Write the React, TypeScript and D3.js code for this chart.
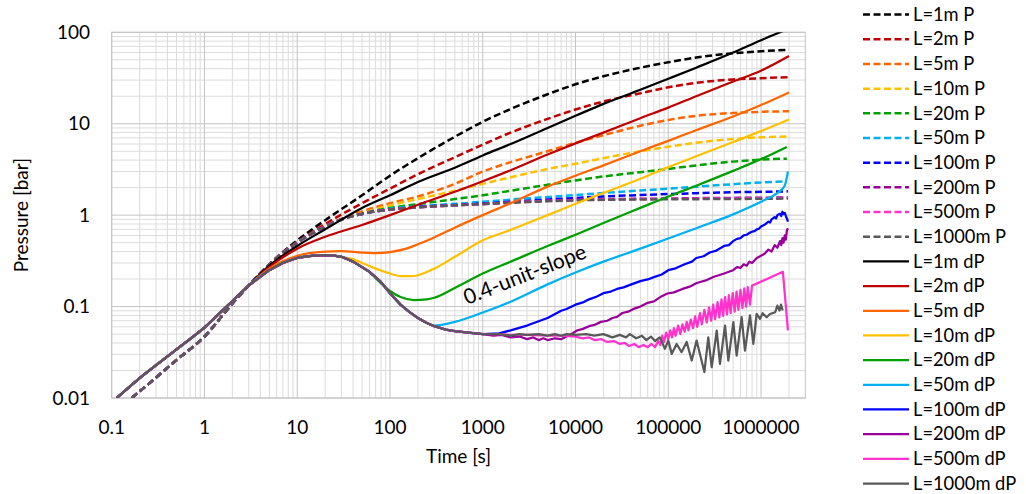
import React from "react";
import * as d3 from "d3";

type Pt = [number, number];

// ---- axes -----------------------------------------------------------------
const xTicks = [0.1, 1, 10, 100, 1000, 10000, 100000, 1000000];
const xTickLabels = ["0.1", "1", "10", "100", "1000", "10000", "100000", "1000000"];
const yTicks = [0.01, 0.1, 1, 10, 100];
const yTickLabels = ["0.01", "0.1", "1", "10", "100"];

// ---- shared early-time segments ---------------------------------------------
const pEarly: Pt[] = [[0.164, 0.01], [0.2, 0.0118], [0.5, 0.026], [1, 0.047], [2, 0.108], [3, 0.17], [5, 0.29]];
const dpEarly: Pt[] = [[0.113, 0.01], [0.2, 0.0165], [0.5, 0.034], [1, 0.059], [2, 0.115], [3, 0.17]];
const pLongBundle: Pt[] = [[10, 0.5], [20, 0.75], [30, 0.9], [50, 1.03], [70, 1.1], [100, 1.15], [200, 1.22], [500, 1.28]];
const dpHump: Pt[] = [[5, 0.25], [7, 0.3], [10, 0.34], [15, 0.36], [20, 0.365], [25, 0.36], [30, 0.35]];
const dpFall: Pt[] = [[40, 0.31], [50, 0.27], [60, 0.24], [70, 0.21], [80, 0.185], [100, 0.14], [130, 0.105], [160, 0.088], [200, 0.075], [250, 0.066]];
const dpFloor: Pt[] = [[300, 0.061], [400, 0.056], [500, 0.054], [700, 0.052], [1000, 0.05]];

// ---- pressure (P) -------------------------------------------------------------
const p1m: Pt[] = [...pEarly, [10, 0.53], [20, 0.88], [50, 1.65], [100, 2.7], [200, 4.2], [500, 7.2], [1000, 10.5], [2000, 14.5], [5000, 21], [1e4, 27], [2e4, 33], [5e4, 41], [1e5, 47], [2e5, 53], [5e5, 59], [1e6, 62], [2e6, 64.5]];
const p2m: Pt[] = [...pEarly, [10, 0.51], [20, 0.8], [50, 1.35], [100, 1.95], [200, 2.8], [500, 4.3], [1000, 5.9], [2000, 8], [5000, 11.3], [1e4, 14.3], [2e4, 17.5], [5e4, 21.5], [1e5, 25], [2e5, 28], [5e5, 30.5], [1e6, 31.5], [2e6, 32.3]];
const p5m: Pt[] = [...pEarly, [10, 0.5], [20, 0.76], [50, 1.1], [100, 1.35], [200, 1.6], [500, 2.2], [1000, 3.0], [2000, 3.8], [5000, 5.0], [1e4, 6.2], [2e4, 7.5], [5e4, 9.5], [1e5, 11], [2e5, 12.2], [5e5, 13.1], [1e6, 13.5], [2e6, 13.7]];
const p10m: Pt[] = [...pEarly, [10, 0.5], [20, 0.75], [50, 1.05], [100, 1.28], [200, 1.5], [500, 1.85], [1000, 2.2], [2000, 2.6], [5000, 3.2], [1e4, 3.65], [2e4, 4.2], [5e4, 5.0], [1e5, 5.6], [2e5, 6.2], [5e5, 6.8], [1e6, 7.1], [2e6, 7.25]];
const p20m: Pt[] = [...pEarly, [10, 0.5], [20, 0.75], [50, 1.04], [100, 1.2], [200, 1.32], [500, 1.5], [1000, 1.65], [2000, 1.85], [5000, 2.15], [1e4, 2.4], [2e4, 2.65], [5e4, 2.95], [1e5, 3.2], [2e5, 3.5], [5e5, 3.85], [1e6, 4.05], [1.9e6, 4.15]];
const p50m: Pt[] = [...pEarly, ...pLongBundle.slice(0, 5), [100, 1.17], [200, 1.25], [500, 1.33], [1000, 1.4], [2000, 1.48], [5000, 1.58], [1e4, 1.66], [2e4, 1.75], [5e4, 1.86], [1e5, 1.95], [2e5, 2.05], [5e5, 2.18], [1e6, 2.28], [1.9e6, 2.35]];
const p100m: Pt[] = [...pEarly, ...pLongBundle.slice(0, 6), [200, 1.23], [500, 1.29], [1000, 1.34], [2000, 1.4], [5000, 1.48], [1e4, 1.54], [2e4, 1.6], [5e4, 1.66], [1e5, 1.7], [2e5, 1.74], [5e5, 1.78], [1e6, 1.8], [1.95e6, 1.82]];
const p200m: Pt[] = [...pEarly, ...pLongBundle, [1000, 1.33], [3000, 1.41], [1e4, 1.47], [3e4, 1.5], [1e5, 1.52], [3e5, 1.54], [1e6, 1.55], [1.95e6, 1.56]];
const p500m: Pt[] = [...pEarly, ...pLongBundle, [1000, 1.32], [3000, 1.4], [1e4, 1.46], [3e4, 1.49], [1e5, 1.51], [3e5, 1.52], [1e6, 1.53], [1.95e6, 1.54]];
const p1000m: Pt[] = [...pEarly, ...pLongBundle, [1000, 1.32], [3000, 1.39], [1e4, 1.45], [3e4, 1.48], [1e5, 1.49], [3e5, 1.5], [1e6, 1.51], [1.95e6, 1.52]];

// ---- pressure derivative (dP) -------------------------------------------------
const dp1m: Pt[] = [...dpEarly, [5, 0.28], [10, 0.46], [20, 0.7], [50, 1.2], [100, 1.65], [200, 2.3], [500, 3.3], [1000, 4.5], [2000, 6.0], [5000, 9.0], [1e4, 12.2], [2e4, 16.5], [5e4, 23.5], [1e5, 31], [2e5, 41], [5e5, 60], [1e6, 82], [2e6, 110]];
const dp2m: Pt[] = [...dpEarly, [5, 0.27], [10, 0.43], [20, 0.58], [50, 0.78], [100, 1.0], [200, 1.3], [500, 1.8], [1000, 2.35], [2000, 3.1], [5000, 4.6], [1e4, 6.1], [2e4, 8.0], [5e4, 11.5], [1e5, 15], [2e5, 20], [5e5, 29], [1e6, 38], [2e6, 55]];
const dp5m: Pt[] = [...dpEarly, [5, 0.26], [10, 0.36], [20, 0.4], [30, 0.405], [50, 0.39], [70, 0.385], [100, 0.395], [150, 0.43], [200, 0.48], [300, 0.57], [500, 0.73], [1000, 1.0], [2000, 1.35], [5000, 2.05], [1e4, 2.7], [2e4, 3.5], [5e4, 5.0], [1e5, 6.5], [2e5, 8.5], [5e5, 12], [1e6, 16], [2e6, 22]];
const dp10m: Pt[] = [...dpEarly, ...dpHump, [40, 0.33], [50, 0.3], [70, 0.26], [100, 0.23], [130, 0.215], [170, 0.215], [200, 0.22], [300, 0.26], [500, 0.35], [1000, 0.53], [2000, 0.69], [5000, 1.0], [1e4, 1.33], [2e4, 1.75], [5e4, 2.5], [1e5, 3.35], [2e5, 4.4], [5e5, 6.3], [1e6, 8.3], [2e6, 11.1]];
const dp20m: Pt[] = [...dpEarly, ...dpHump, [40, 0.31], [50, 0.27], [60, 0.24], [70, 0.205], [100, 0.148], [130, 0.127], [180, 0.118], [250, 0.12], [300, 0.125], [500, 0.16], [1000, 0.23], [2000, 0.31], [5000, 0.46], [1e4, 0.61], [2e4, 0.82], [5e4, 1.2], [1e5, 1.6], [2e5, 2.1], [5e5, 3.05], [1e6, 4.1], [1.9e6, 5.58]];
const dp50m: Pt[] = [...dpEarly, ...dpHump, ...dpFall, [300, 0.062], [500, 0.068], [1000, 0.086], [2000, 0.113], [5000, 0.175], [1e4, 0.236], [2e4, 0.31], [5e4, 0.43], [1e5, 0.555], [2e5, 0.72], [5e5, 1.02], [1e6, 1.4], [1.5e6, 1.75], [1.8e6, 2.1], [1.95e6, 3.0]];
const dp100m: Pt[] = [...dpEarly, ...dpHump, ...dpFall, ...dpFloor, [1500, 0.051], [2000, 0.055], [3000, 0.062], [5000, 0.075], [7000, 0.09], [8000, 0.094], [1e4, 0.105], [1.2e4, 0.111], [1.4e4, 0.12], [1.7e4, 0.129], [2e4, 0.14], [2.4e4, 0.146], [2.8e4, 0.156], [3.3e4, 0.162], [4e4, 0.175], [5e4, 0.19], [6e4, 0.198], [7e4, 0.21], [8.5e4, 0.224], [1e5, 0.25], [1.2e5, 0.262], [1.5e5, 0.29], [1.8e5, 0.31], [2e5, 0.34], [2.4e5, 0.355], [2.8e5, 0.39], [3.3e5, 0.41], [4e5, 0.46], [4.5e5, 0.47], [5e5, 0.52], [5.5e5, 0.55], [6e5, 0.56], [6.5e5, 0.6], [7e5, 0.61], [7.5e5, 0.64], [8e5, 0.66], [8.5e5, 0.67], [9e5, 0.7], [9.5e5, 0.71], [1e6, 0.75], [1.1e6, 0.79], [1.2e6, 0.85], [1.25e6, 0.83], [1.3e6, 0.9], [1.4e6, 0.95], [1.45e6, 0.92], [1.5e6, 1.0], [1.6e6, 1.04], [1.65e6, 0.98], [1.7e6, 1.09], [1.75e6, 1.03], [1.8e6, 1.06], [1.85e6, 0.98], [1.9e6, 0.92], [1.95e6, 0.85]];
const dp200m: Pt[] = [...dpEarly, ...dpHump, ...dpFall, ...dpFloor, [1300, 0.048], [1600, 0.049], [2000, 0.046], [2500, 0.047], [3000, 0.044], [3500, 0.046], [4000, 0.043], [4500, 0.045], [5000, 0.043], [6000, 0.045], [7000, 0.044], [8000, 0.047], [9000, 0.05], [1.05e4, 0.055], [1.2e4, 0.057], [1.4e4, 0.061], [1.6e4, 0.063], [1.87e4, 0.068], [2.2e4, 0.07], [2.5e4, 0.075], [2.8e4, 0.077], [3.2e4, 0.085], [3.7e4, 0.088], [4.3e4, 0.095], [5e4, 0.1], [6e4, 0.11], [7e4, 0.114], [8.5e4, 0.13], [9.8e4, 0.139], [1.15e5, 0.143], [1.4e5, 0.155], [1.7e5, 0.165], [2e5, 0.18], [2.25e5, 0.187], [2.6e5, 0.195], [3.1e5, 0.212], [3.5e5, 0.22], [4e5, 0.23], [4.5e5, 0.24], [5e5, 0.25], [5.5e5, 0.27], [6e5, 0.265], [6.5e5, 0.29], [7e5, 0.28], [7.5e5, 0.31], [8e5, 0.3], [9e5, 0.34], [1e6, 0.36], [1.1e6, 0.38], [1.2e6, 0.42], [1.3e6, 0.4], [1.4e6, 0.47], [1.5e6, 0.44], [1.6e6, 0.52], [1.65e6, 0.47], [1.7e6, 0.56], [1.75e6, 0.5], [1.8e6, 0.6], [1.85e6, 0.54], [1.9e6, 0.68], [1.95e6, 0.72]];
const dp500m: Pt[] = [...dpEarly, ...dpHump, ...dpFall, ...dpFloor, [1500, 0.05], [2000, 0.049], [3000, 0.049], [5000, 0.048], [7000, 0.048], [1e4, 0.047], [1.2e4, 0.045], [1.4e4, 0.046], [1.6e4, 0.043], [1.9e4, 0.044], [2.2e4, 0.041], [2.6e4, 0.042], [3e4, 0.039], [3.4e4, 0.04], [3.8e4, 0.037], [4.3e4, 0.039], [4.8e4, 0.036], [5.4e4, 0.038], [6e4, 0.036], [6.6e4, 0.039], [7.2e4, 0.036], [7.8e4, 0.042], [8.2e4, 0.038], [8.6e4, 0.048], [9e4, 0.041], [9.5e4, 0.052], [1.0e5, 0.044], [1.05e5, 0.055], [1.1e5, 0.046], [1.15e5, 0.058], [1.2e5, 0.048], [1.28e5, 0.062], [1.35e5, 0.05], [1.42e5, 0.064], [1.5e5, 0.053], [1.58e5, 0.068], [1.65e5, 0.055], [1.75e5, 0.072], [1.85e5, 0.058], [1.95e5, 0.078], [2.05e5, 0.06], [2.2e5, 0.085], [2.3e5, 0.064], [2.45e5, 0.092], [2.6e5, 0.067], [2.75e5, 0.098], [2.9e5, 0.07], [3.05e5, 0.105], [3.2e5, 0.073], [3.4e5, 0.112], [3.55e5, 0.076], [3.75e5, 0.12], [3.9e5, 0.079], [4.1e5, 0.127], [4.3e5, 0.082], [4.5e5, 0.133], [4.7e5, 0.085], [4.95e5, 0.14], [5.2e5, 0.088], [5.45e5, 0.146], [5.7e5, 0.092], [6e5, 0.152], [6.3e5, 0.096], [6.6e5, 0.158], [6.9e5, 0.1], [7.2e5, 0.163], [7.6e5, 0.105], [8e5, 0.17], [8.6e5, 0.175], [1.72e6, 0.24], [1.95e6, 0.055]];
const dp1000m: Pt[] = [...dpEarly, ...dpHump, ...dpFall, ...dpFloor, [1500, 0.05], [2000, 0.048], [2500, 0.05], [3000, 0.049], [4000, 0.05], [5000, 0.048], [6000, 0.05], [7000, 0.048], [8000, 0.05], [1e4, 0.049], [1.3e4, 0.05], [1.6e4, 0.048], [2e4, 0.05], [2.5e4, 0.046], [3e4, 0.049], [3.5e4, 0.046], [3.85e4, 0.05], [4.5e4, 0.045], [5.2e4, 0.048], [5.8e4, 0.043], [6.5e4, 0.047], [7.2e4, 0.042], [8.1e4, 0.046], [9.2e4, 0.0345], [1e5, 0.0425], [1.09e5, 0.0304], [1.23e5, 0.039], [1.39e5, 0.0317], [1.58e5, 0.041], [1.79e5, 0.0257], [2.02e5, 0.0425], [2.45e5, 0.0192], [2.7e5, 0.046], [2.94e5, 0.0218], [3.33e5, 0.0546], [3.61e5, 0.0236], [4.09e5, 0.062], [4.44e5, 0.0257], [5.03e5, 0.0674], [5.46e5, 0.029], [6.18e5, 0.0765], [6.71e5, 0.033], [7.6e5, 0.08], [8.26e5, 0.039], [8.97e5, 0.083], [9.75e5, 0.0734], [1.04e6, 0.0846], [1.15e6, 0.0765], [1.25e6, 0.083], [1.42e6, 0.0867], [1.5e6, 0.1025], [1.58e6, 0.0905], [1.64e6, 0.105], [1.71e6, 0.0905]];

const lengths = ["1m", "2m", "5m", "10m", "20m", "50m", "100m", "200m", "500m", "1000m"];
const colors = ["#000000", "#C00000", "#FF6600", "#FFC000", "#00A000", "#00B0F0", "#0000FF", "#990099", "#FF33CC", "#595959"];
const pSeries = [p1m, p2m, p5m, p10m, p20m, p50m, p100m, p200m, p500m, p1000m];
const dpSeries = [dp1m, dp2m, dp5m, dp10m, dp20m, dp50m, dp100m, dp200m, dp500m, dp1000m];
const noisy = [false, false, false, false, false, false, true, true, true, true];

const FONT = "Lato, 'Open Sans', sans-serif";

export default function App() {
  const left = 111.7, right = 805.3, top = 32.3, bottom = 398;
  const x = d3.scaleLog().domain([0.1, 3e6]).range([left, right]);
  const y = d3.scaleLog().domain([0.01, 100]).range([bottom, top]);

  const minorX: number[] = [];
  for (let d = -1; d <= 6; d++) for (let k = 2; k <= 9; k++) { const v = k * Math.pow(10, d); if (v < 3e6) minorX.push(v); }
  const minorY: number[] = [];
  for (let d = -2; d <= 1; d++) for (let k = 2; k <= 9; k++) minorY.push(k * Math.pow(10, d));

  const smooth = d3.line<Pt>().x(d => x(d[0])).y(d => y(d[1])).curve(d3.curveMonotoneX);
  const rough = d3.line<Pt>().x(d => x(d[0])).y(d => y(d[1]));

  const legendItems = [
    ...lengths.map((l, i) => ({ label: `L=${l} P`, color: colors[i], dashed: true })),
    ...lengths.map((l, i) => ({ label: `L=${l} dP`, color: colors[i], dashed: false })),
  ];

  return (
    <svg width={1026} height={494} style={{ position: "absolute", left: 0, top: 0, background: "#fff" }} fontFamily={FONT}>
      <defs>
        <clipPath id="plotClip"><rect x={left} y={top} width={right - left} height={bottom - top} /></clipPath>
      </defs>
      <g>
        {minorX.map(v => <line key={"mx" + v} x1={x(v)} x2={x(v)} y1={top} y2={bottom} stroke="#dcdcdc" strokeWidth={1} />)}
        {minorY.map(v => <line key={"my" + v} x1={left} x2={right} y1={y(v)} y2={y(v)} stroke="#dcdcdc" strokeWidth={1} />)}
        {xTicks.map(v => <line key={"gx" + v} x1={x(v)} x2={x(v)} y1={top} y2={bottom} stroke="#c4c4c4" strokeWidth={1} />)}
        {yTicks.map(v => <line key={"gy" + v} x1={left} x2={right} y1={y(v)} y2={y(v)} stroke="#c4c4c4" strokeWidth={1} />)}
        <rect x={left} y={top} width={right - left} height={bottom - top} fill="none" stroke="#c4c4c4" strokeWidth={1} />
      </g>
      <g clipPath="url(#plotClip)" fill="none" strokeLinejoin="round">
        {pSeries.map((s, i) => (
          <path key={"p" + i} d={smooth(s) || ""} stroke={colors[i]} strokeWidth={2.5} strokeDasharray="7 3.5" />
        ))}
        {dpSeries.map((s, i) => (
          <path key={"dp" + i} d={(noisy[i] ? rough(s) : smooth(s)) || ""} stroke={colors[i]} strokeWidth={2.25} />
        ))}
      </g>
      <g fontSize={19} fill="#000">
        {xTicks.map((v, i) => (
          <text key={"xl" + v} x={x(v)} y={434} textAnchor="middle">{xTickLabels[i]}</text>
        ))}
        {yTicks.map((v, i) => (
          <text key={"yl" + v} x={90} y={y(v) + 6.5} textAnchor="end">{yTickLabels[i]}</text>
        ))}
        <text x={(left + right) / 2} y={463} textAnchor="middle">Time [s]</text>
        <text transform={`translate(28,${(top + bottom) / 2}) rotate(-90)`} textAnchor="middle">Pressure [bar]</text>
        <text transform="translate(467,305) rotate(-21.5)" fontSize={21}>0.4-unit-slope</text>
      </g>
      <g fontSize={18.3}>
        {legendItems.map((it, i) => {
          const ly = 14.6 + i * 24.68;
          return (
            <g key={"lg" + i}>
              <line x1={863} x2={909} y1={ly} y2={ly} stroke={it.color} strokeWidth={it.dashed ? 2.5 : 2.25} strokeDasharray={it.dashed ? "7 3.5" : undefined} />
              <text x={913} y={ly + 6.2} fill="#000">{it.label}</text>
            </g>
          );
        })}
      </g>
    </svg>
  );
}
